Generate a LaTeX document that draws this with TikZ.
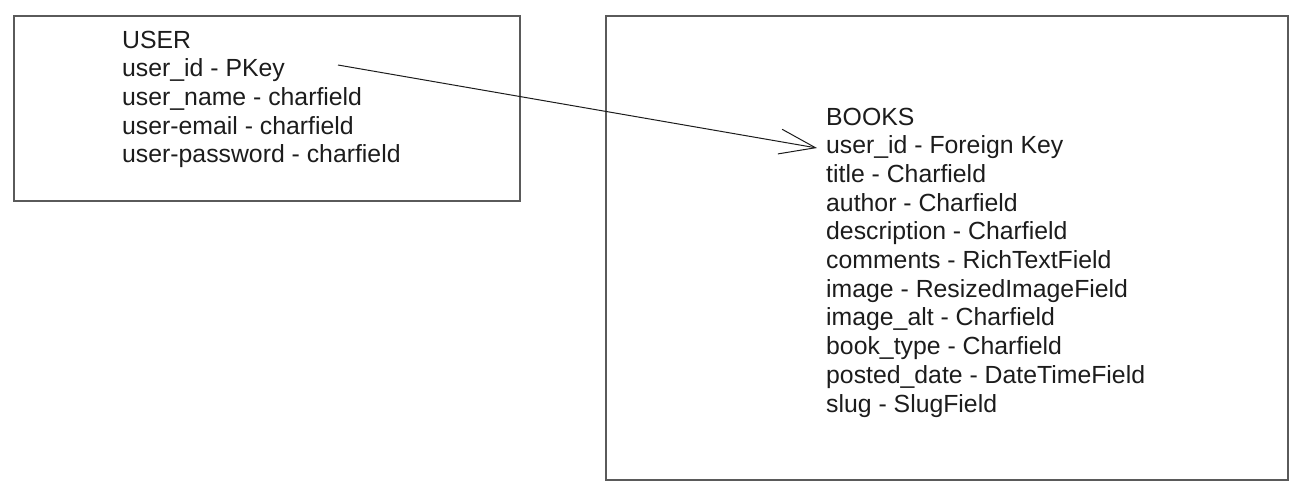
\documentclass[tikz,border=0pt]{standalone}
\usepackage{fontspec}
\setmainfont{Liberation Sans}
\usetikzlibrary{arrows.meta}
\definecolor{txt}{RGB}{28,28,28}
\definecolor{edge}{RGB}{90,90,90}
\tikzset{
  table/.style={draw=edge, line width=1.2pt},
  row/.style={anchor=base west, inner sep=0pt, text=txt, font=\fontsize{24.8}{28.7}\selectfont},
  link/.style={draw=txt, line width=1pt, -{Straight Barb[length=36pt,width=25pt,line width=1pt]}}
}
\begin{document}
\begin{tikzpicture}[x=1pt,y=1pt]
\useasboundingbox (0,0) rectangle (1302,-491);
% boxes
\draw[table] (14,-16) rectangle (520,-201);
\draw[table] (606,-16) rectangle (1288,-480);
% USER rows
\foreach \t [count=\i from 0] in {USER, user\_id - PKey, user\_name - charfield, user-email - charfield, user-password - charfield}
  \node[row] (u\i) at (122,-48-28.7*\i) {\t};
% BOOKS rows
\foreach \t [count=\i from 0] in {BOOKS, user\_id - Foreign Key, title - Charfield, author - Charfield, description - Charfield, comments - RichTextField, image - ResizedImageField, image\_alt - Charfield, book\_type - Charfield, posted\_date - DateTimeField, slug - SlugField}
  \node[row] (b\i) at (826,-125-28.7*\i) {\t};
% connector
\coordinate (from) at (338,-65);
\coordinate (to) at (817,-148);
\draw[link] (from) -- (to);
\end{tikzpicture}
\end{document}
